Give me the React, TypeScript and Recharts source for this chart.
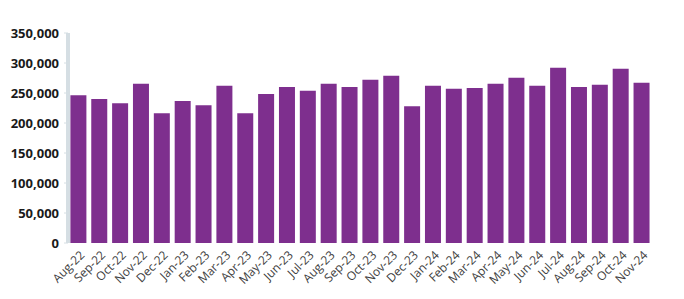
import React from "react";
import { BarChart, Bar, XAxis, YAxis } from "recharts";

const months = [
  "Aug-22", "Sep-22", "Oct-22", "Nov-22", "Dec-22", "Jan-23", "Feb-23", "Mar-23",
  "Apr-23", "May-23", "Jun-23", "Jul-23", "Aug-23", "Sep-23", "Oct-23", "Nov-23",
  "Dec-23", "Jan-24", "Feb-24", "Mar-24", "Apr-24", "May-24", "Jun-24", "Jul-24",
  "Aug-24", "Sep-24", "Oct-24", "Nov-24",
];

const values = [
  246400, 240200, 233000, 265300, 216300, 236800, 229600, 261900,
  216300, 248500, 260200, 253600, 265300, 260200, 271900, 278600,
  228000, 261900, 256900, 258500, 265300, 275300, 261900, 292000,
  260200, 263600, 290300, 266900,
];

const yTicks = [0, 50000, 100000, 150000, 200000, 250000, 300000, 350000];

const data = months.map((m, i) => ({ month: m, value: values[i] }));

const XTick = (props: any) => {
  const { x, y, payload } = props;
  return (
    <g transform={`translate(${x + 4},${y + 2})`}>
      <text
        x={0}
        y={0}
        dy={4}
        textAnchor="end"
        transform="rotate(-45)"
        fill="#404040"
        fontSize={12}
        fontFamily="'Open Sans', sans-serif"
      >
        {payload.value}
      </text>
    </g>
  );
};

export default function App() {
  return (
    <BarChart
      width={676}
      height={291}
      data={data}
      margin={{ top: 25, right: 32, bottom: 0, left: 0 }}
      barCategoryGap="11.5%"
    >
      <XAxis
        dataKey="month"
        interval={0}
        axisLine={false}
        tickLine={false}
        height={56}
        tick={<XTick />}
      />
      <YAxis
        width={60}
        domain={[0, 350000]}
        ticks={yTicks}
        interval={0}
        axisLine={{ stroke: "#D5DEE3", strokeWidth: 4 }}
        tickLine={{ stroke: "#D5DEE3", strokeWidth: 1 }}
        tickSize={4}
        tickMargin={5}
        tickFormatter={(v: number) => v.toLocaleString("en-US")}
        tick={{ fill: "#1a1a1a", fontSize: 13, fontWeight: 700, fontFamily: "'Open Sans', sans-serif" }}
      />
      <Bar dataKey="value" fill="#7E2F8E" isAnimationActive={false} />
    </BarChart>
  );
}
